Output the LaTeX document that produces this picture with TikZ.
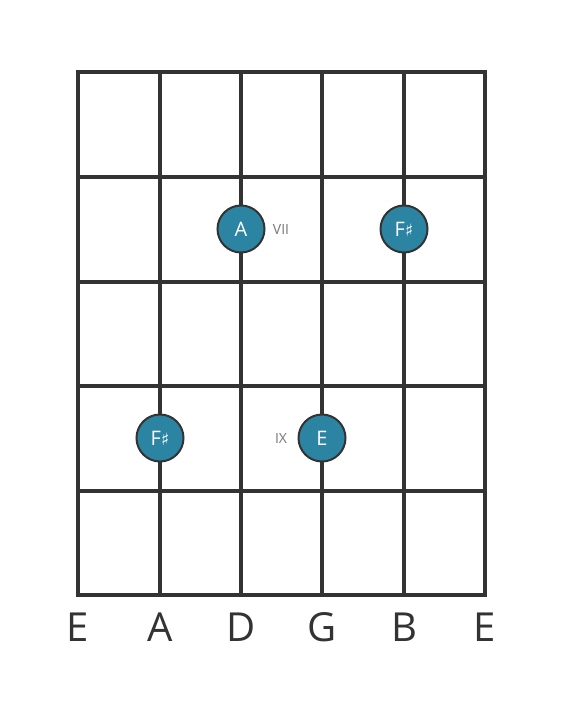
\documentclass[tikz,border=0pt]{standalone}
\usepackage{fontspec}
\setmainfont{Open Sans}
\newfontfamily\symfont{DejaVu Sans}
\definecolor{gridc}{HTML}{333333}
\definecolor{dotc}{HTML}{2B84A1}
\definecolor{labc}{HTML}{777777}
\tikzset{
  fret/.style={draw=gridc, line width=4.4pt, line cap=rect},
  strg/.style={draw=gridc, line width=3.3pt},
  notedot/.style={circle, fill=dotc, draw=gridc, line width=2pt, minimum size=47pt, inner sep=0pt, text=white, font=\fontsize{20}{20}\selectfont},
  poslab/.style={text=labc, font=\fontsize{14}{14}\selectfont},
  strlab/.style={text=gridc, font=\fontsize{40}{40}\selectfont, anchor=base}
}
\newcommand{\shp}{{\symfont\fontsize{17}{17}\selectfont ♯}}
\begin{document}
\begin{tikzpicture}[x=1pt,y=-1pt]
\useasboundingbox[fill=white] (0,0) rectangle (566,711);
% strings
\foreach \x in {160,241,322,404} \draw[strg] (\x,72) -- (\x,595);
\draw[strg] (78,72) -- (78,595);
\draw[strg] (485,72) -- (485,595);
% frets
\foreach \y in {72,177,282,386,491,595} \draw[fret] (78,\y) -- (485,\y);
% notes
\node[notedot] (n1) at (241,229) {A};
\node[notedot] (n2) at (404,229) {F\shp};
\node[notedot] (n3) at (160,438) {F\shp};
\node[notedot] (n4) at (322,438) {E};
\node[poslab] (p1) at (281,229.5) {VII};
\node[poslab] (p2) at (281,438.5) {IX};
% string labels
\node[strlab] (s1) at (78,641) {E};
\node[strlab] (s2) at (160,641) {A};
\node[strlab] (s3) at (241,641) {D};
\node[strlab] (s4) at (322,641) {G};
\node[strlab] (s5) at (404,641) {B};
\node[strlab] (s6) at (485,641) {E};
\end{tikzpicture}
\end{document}
